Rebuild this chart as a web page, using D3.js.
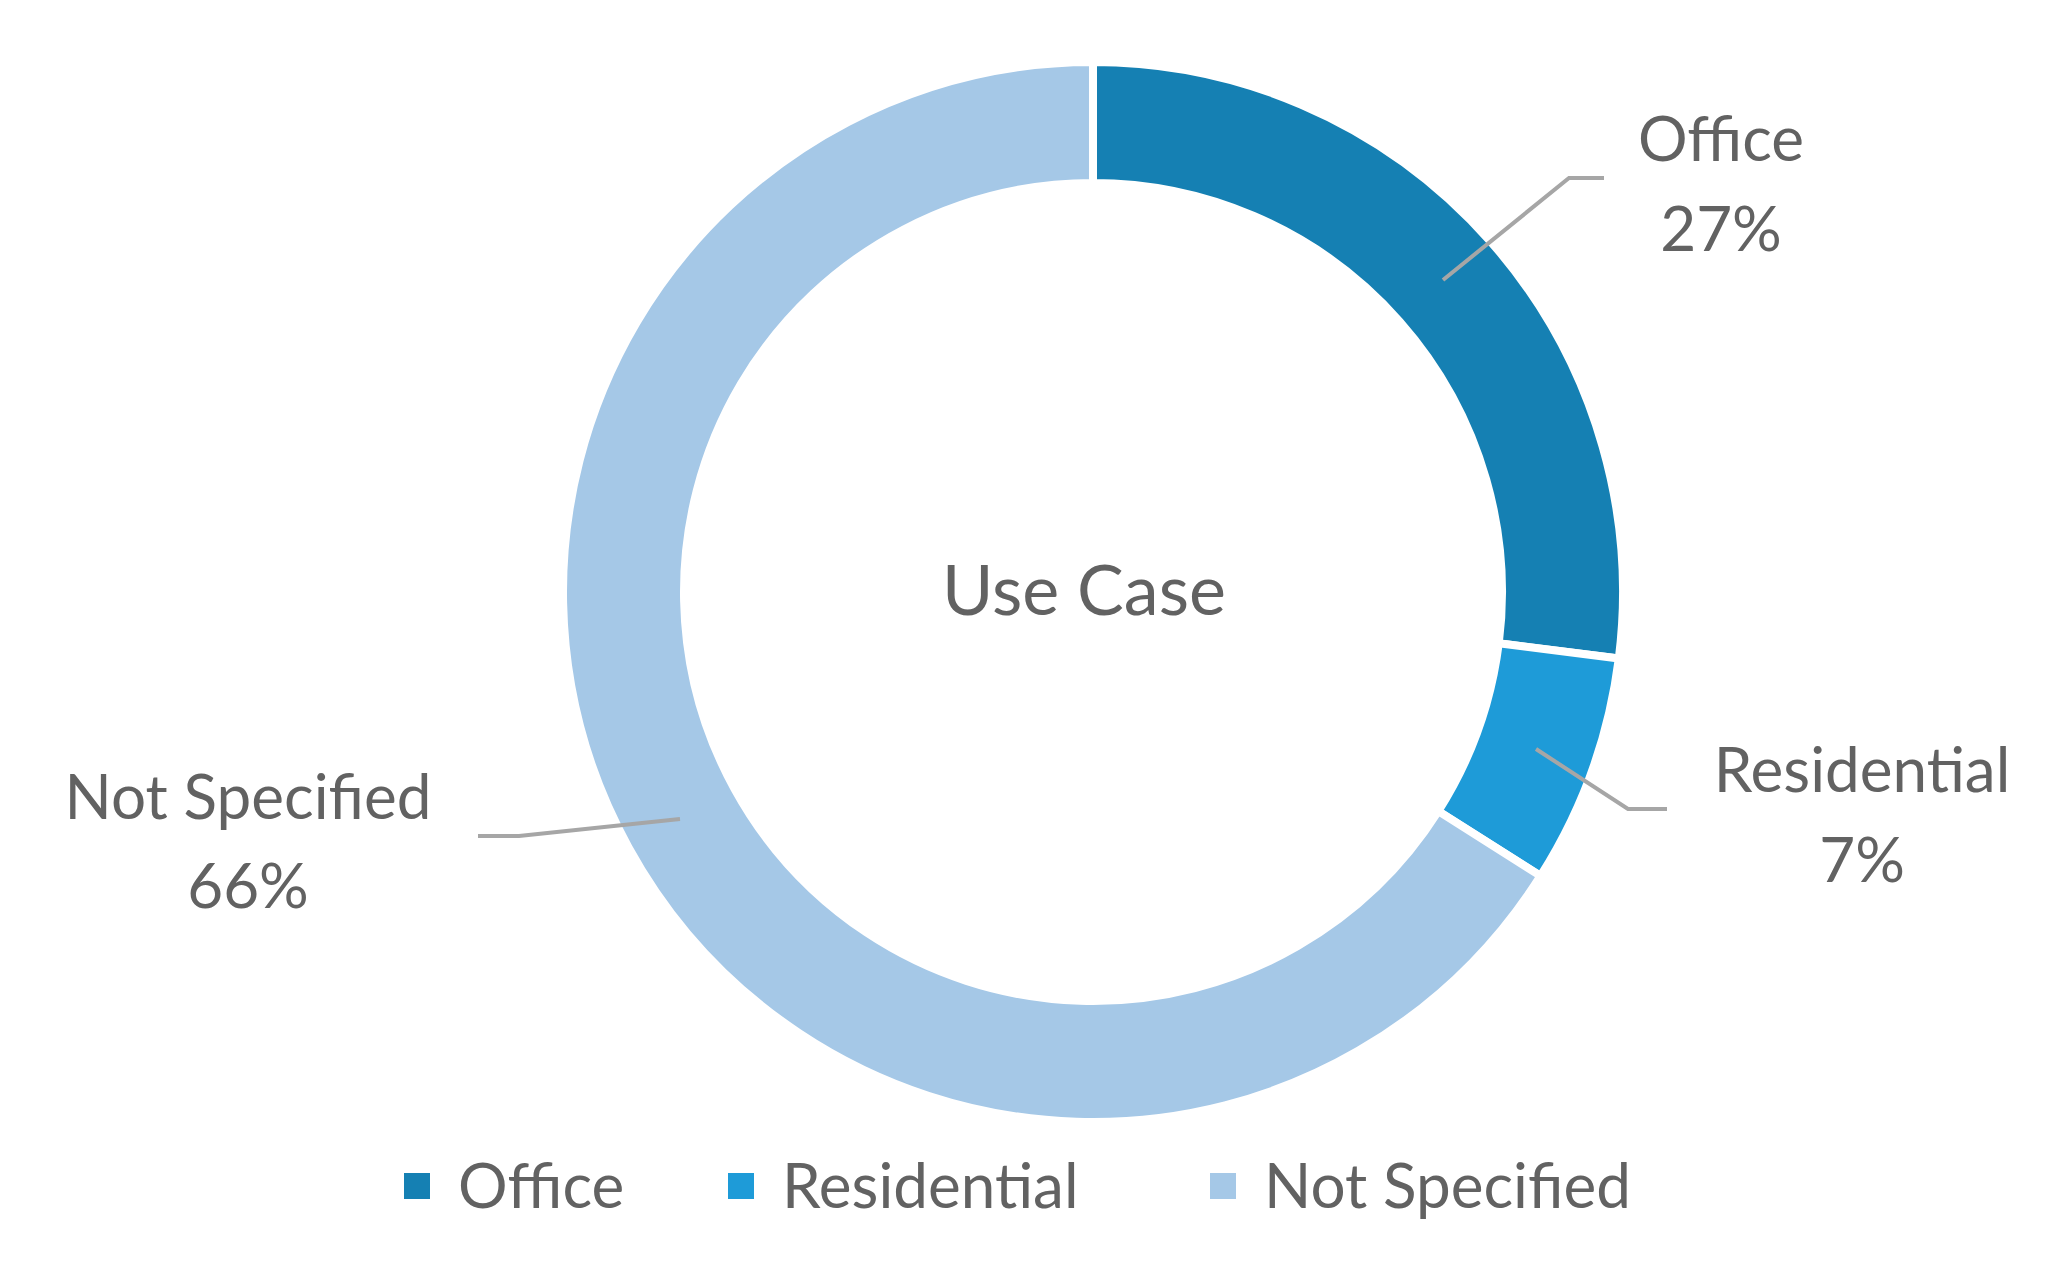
<!DOCTYPE html>
<html><head><meta charset="utf-8">
<script src="https://cdn.jsdelivr.net/npm/d3@7"></script>
<style>body{margin:0;background:#fff}</style></head>
<body><svg id="c" width="2060" height="1266"></svg>
<script>
const categories = ["Office", "Residential", "Not Specified"];
const values = [27, 7, 66];
const colors = ["#1580B3", "#1E9BD8", "#A5C8E7"];
const title = "Use Case";

const svg = d3.select("#c");
const font = "Lato, 'Open Sans', sans-serif";
const txt = "#626262";
const cx = 1093, cy = 592, rO = 530, rI = 409;
const g = svg.append("g").attr("transform", `translate(${cx},${cy})`);
const pie = d3.pie().sort(null).value(d => d)(values);
const arc = d3.arc().innerRadius(rI).outerRadius(rO);
g.selectAll("path").data(pie).join("path")
  .attr("d", arc).attr("fill", (d, i) => colors[i])
  .attr("stroke", "#fff").attr("stroke-width", 8);

g.append("text").attr("x", -9).attr("y", 23).attr("text-anchor", "middle")
  .attr("font-family", font).attr("font-size", 70).attr("fill", txt).text(title);

// label layout (positions only)
const labelLayout = [
  {line: [[1443,280],[1569,178],[1604,178]], x: 1721, y1: 161, y2: 251},
  {line: [[1536,749],[1628,809],[1667,809]], x: 1862, y1: 792, y2: 882},
  {line: [[680,819],[519,836],[478,836]], x: 248, y1: 819, y2: 908}
];
labelLayout.forEach((L, i) => {
  svg.append("polyline").attr("points", L.line.map(p => p.join(",")).join(" "))
    .attr("fill", "none").attr("stroke", "#A6A6A6").attr("stroke-width", 4);
  const t = svg.append("text").attr("text-anchor", "middle").attr("font-family", font)
    .attr("font-size", 62).attr("fill", txt);
  t.append("tspan").attr("x", L.x).attr("y", L.y1).text(categories[i]);
  t.append("tspan").attr("x", L.x).attr("y", L.y2).text(d3.format(".0f")(values[i]) + "%");
});

const legX = [404, 728, 1210];
categories.forEach((c, i) => {
  svg.append("rect").attr("x", legX[i]).attr("y", 1173).attr("width", 26).attr("height", 26).attr("fill", colors[i]);
  svg.append("text").attr("x", legX[i] + 54).attr("y", 1208).attr("font-family", font)
    .attr("font-size", 62).attr("fill", txt).text(c);
});
</script></body></html>
